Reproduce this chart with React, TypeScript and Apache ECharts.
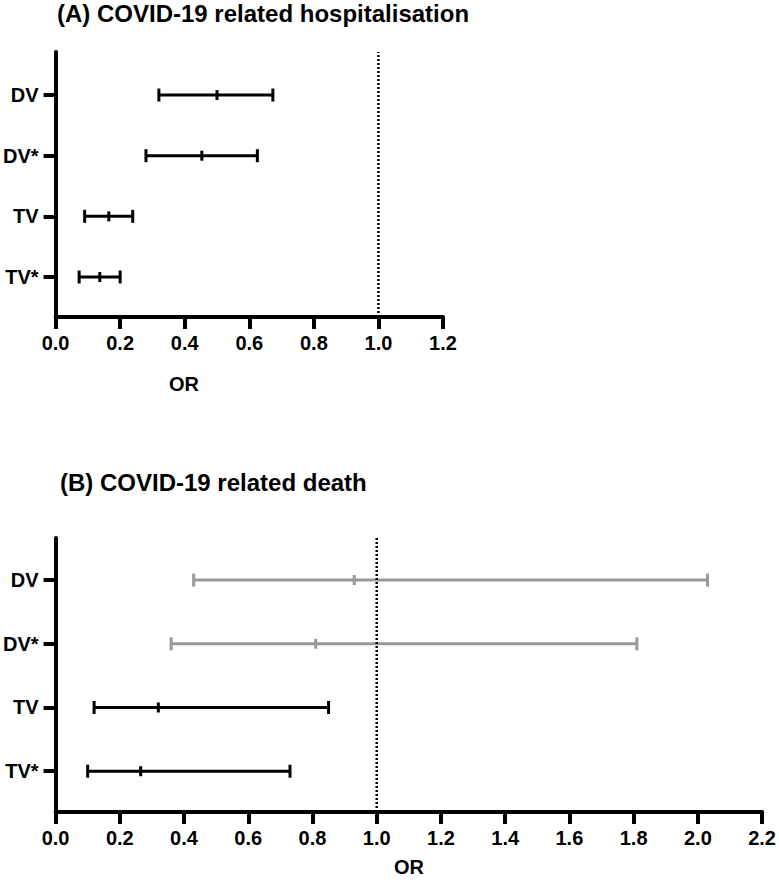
import React, { useEffect, useRef } from "react";
import * as echarts from "echarts";

// Category names (position 4 = top, 1 = bottom)
const categories = ["TV*", "TV", "DV*", "DV"];
const categoryPos = [1, 2, 3, 4];

// Panel A: COVID-19 related hospitalisation (OR with 95% CI) — order DV, DV*, TV, TV*
const hospLower = [0.32, 0.28, 0.09, 0.073];
const hospOR = [0.5, 0.453, 0.165, 0.137];
const hospUpper = [0.673, 0.625, 0.239, 0.2];
const hospColors = ["#000000", "#000000", "#000000", "#000000"];

// Panel B: COVID-19 related death
const deathLower = [0.43, 0.36, 0.12, 0.1];
const deathOR = [0.93, 0.81, 0.32, 0.265];
const deathUpper = [2.03, 1.81, 0.85, 0.73];
const deathColors = ["#999999", "#999999", "#000000", "#000000"];

const rowNames = ["DV", "DV*", "TV", "TV*"];
const xTicksA = [0, 0.2, 0.4, 0.6, 0.8, 1.0, 1.2];
const xTicksB = [0, 0.2, 0.4, 0.6, 0.8, 1.0, 1.2, 1.4, 1.6, 1.8, 2.0, 2.2];
const refLine = 1.0;

const FONT = "'Liberation Sans', Arial, Helvetica, sans-serif";

const rowPos = (name: string) => categoryPos[categories.indexOf(name)];

const renderItem = (params: any, api: any) => {
  const lo = api.value(0);
  const mid = api.value(1);
  const hi = api.value(2);
  const y = api.value(3);
  const color = api.visual("color");
  const pL = api.coord([lo, y]);
  const pM = api.coord([mid, y]);
  const pH = api.coord([hi, y]);
  const cap = 6.5;
  const midCap = 5;
  const st = { stroke: color, lineWidth: 3 };
  return {
    type: "group",
    children: [
      { type: "line", shape: { x1: pL[0], y1: pL[1], x2: pH[0], y2: pH[1] }, style: st },
      { type: "line", shape: { x1: pL[0], y1: pL[1] - cap, x2: pL[0], y2: pL[1] + cap }, style: st },
      { type: "line", shape: { x1: pH[0], y1: pH[1] - cap, x2: pH[0], y2: pH[1] + cap }, style: st },
      { type: "line", shape: { x1: pM[0], y1: pM[1] - midCap, x2: pM[0], y2: pM[1] + midCap }, style: st },
    ],
  };
};

const makeData = (lo: number[], mid: number[], hi: number[], colors: string[]) =>
  rowNames.map((n, i) => ({
    value: [lo[i], mid[i], hi[i], rowPos(n)],
    itemStyle: { color: colors[i] },
  }));

const yMinA = 0.34, yMaxA = 4.71;
const yMinB = 0.36, yMaxB = 4.66;

const axisCommonX = (ticks: number[]) => ({
  type: "value",
  min: ticks[0],
  max: ticks[ticks.length - 1],
  interval: 0.2,
  splitLine: { show: false },
  axisLine: { show: true, lineStyle: { color: "#000", width: 4 } },
  axisTick: { show: true, length: 12, lineStyle: { color: "#000", width: 4 } },
  axisLabel: {
    color: "#000",
    fontFamily: FONT,
    fontWeight: "bold",
    fontSize: 20,
    margin: 16,
    formatter: (v: number) => v.toFixed(1),
  },
});

const axisCommonY = (min: number, max: number) => ({
  type: "value",
  min,
  max,
  splitLine: { show: false },
  axisLine: { show: true, lineStyle: { color: "#000", width: 4 } },
  axisTick: { show: true, length: 12, customValues: categoryPos, lineStyle: { color: "#000", width: 4 } },
  axisLabel: {
    color: "#000",
    fontFamily: FONT,
    fontWeight: "bold",
    fontSize: 20,
    margin: 17,
    customValues: categoryPos,
    formatter: (v: number) => categories[categoryPos.indexOf(Math.round(v))] ?? "",
  },
});

export default function App() {
  const ref = useRef<HTMLDivElement>(null);
  useEffect(() => {
    if (!ref.current) return;
    const chart = echarts.init(ref.current, null, { renderer: "svg" });
    chart.setOption({
      animation: false,
      backgroundColor: "#ffffff",
      grid: [
        { left: 52, top: 52, width: 391, height: 265 },
        { left: 54, top: 538, width: 711, height: 274 },
      ],
      xAxis: [
        { gridIndex: 0, ...axisCommonX(xTicksA) },
        { gridIndex: 1, ...axisCommonX(xTicksB) },
      ],
      yAxis: [
        { gridIndex: 0, ...axisCommonY(yMinA, yMaxA) },
        { gridIndex: 1, ...axisCommonY(yMinB, yMaxB) },
      ],
      graphic: [
        {
          type: "text",
          left: 57,
          top: 1,
          style: { text: "(A) COVID-19 related hospitalisation", font: `bold 24px ${FONT}`, fill: "#000" },
        },
        {
          type: "text",
          left: 169,
          top: 374,
          style: { text: "OR", font: `bold 20px ${FONT}`, fill: "#000" },
        },
        {
          type: "text",
          left: 60,
          top: 470,
          style: { text: "(B) COVID-19 related death", font: `bold 24px ${FONT}`, fill: "#000" },
        },
        {
          type: "text",
          left: 394,
          top: 857,
          style: { text: "OR", font: `bold 20px ${FONT}`, fill: "#000" },
        },
      ],
      series: [
        {
          type: "custom",
          xAxisIndex: 0,
          yAxisIndex: 0,
          renderItem,
          encode: { x: [0, 1, 2], y: 3 },
          data: makeData(hospLower, hospOR, hospUpper, hospColors),
          z: 2,
        },
        {
          type: "custom",
          xAxisIndex: 1,
          yAxisIndex: 1,
          renderItem,
          encode: { x: [0, 1, 2], y: 3 },
          data: makeData(deathLower, deathOR, deathUpper, deathColors),
          z: 2,
        },
        {
          type: "line",
          xAxisIndex: 0,
          yAxisIndex: 0,
          symbol: "none",
          data: [[refLine, yMinA], [refLine, yMaxA]],
          lineStyle: { color: "#000", width: 2.5, type: [2, 2] },
          z: 5,
        },
        {
          type: "line",
          xAxisIndex: 1,
          yAxisIndex: 1,
          symbol: "none",
          data: [[refLine, yMinB], [refLine, yMaxB]],
          lineStyle: { color: "#000", width: 2.5, type: [2, 2] },
          z: 5,
        },
      ],
    });
    return () => chart.dispose();
  }, []);
  return (
    <div
      ref={ref}
      style={{ position: "fixed", left: 0, top: 0, width: 779, height: 880, background: "#fff" }}
    />
  );
}
